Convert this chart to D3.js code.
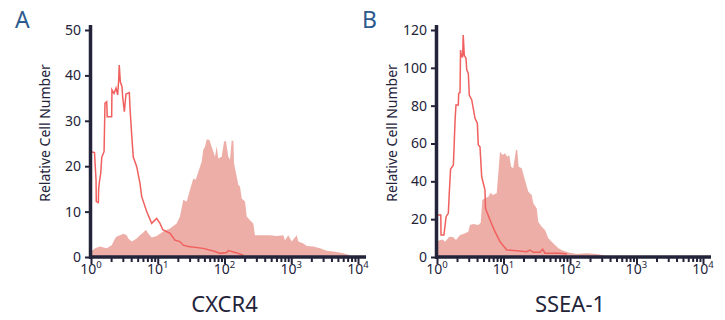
<!DOCTYPE html>
<html>
<head>
<meta charset="utf-8">
<script src="https://cdnjs.cloudflare.com/ajax/libs/d3/7.8.5/d3.min.js"></script>
<style>
  body { margin: 0; background: #fff; }
  svg { font-family: "Noto Sans", "Open Sans", sans-serif; }
</style>
</head>
<body>
<div id="chart"></div>
<script>
// panel A - CXCR4 (fluorescence intensity vs cell count)
var cxcr4Intensity = [1.00, 1.15, 1.36, 1.72, 2.04, 2.29, 2.43, 2.72, 3.05, 3.43, 3.62, 4.07, 4.84, 5.42, 6.08, 6.67,
    7.21, 8.11, 9.64, 12.1, 15.3, 19.2, 21.5, 24.1, 27.2, 30.4, 34.1, 37.0, 43.0, 45.5, 48.1, 51.0, 54.1, 59.2,
    64.3, 72.1, 76.4, 80.7, 90.8, 98.4, 105, 114, 121, 128, 136, 139, 149, 161, 171, 181, 203, 215, 241, 270,
    286, 481, 605, 760, 806, 903, 1016, 1208, 1276, 1517, 1706, 2140, 2697, 3396, 4266, 6026, 7586];
var cxcr4Count = [1.2, 1.9, 2.3, 1.9, 2.6, 4.1, 4.5, 4.8, 5.1, 4.8, 4.1, 3.4, 4.1, 4.8, 5.4, 6.0,
    5.2, 4.3, 4.6, 5.6, 6.3, 7.4, 8.9, 12.6, 12.2, 14.8, 17.3, 17.0, 19.9, 21.0, 23.6, 24.3, 25.9, 25.8,
    24.3, 22.1, 24.4, 21.7, 22.1, 25.4, 25.6, 22.1, 21.4, 25.6, 25.6, 20.6, 18.4, 15.9, 15.5, 12.9, 12.2, 8.9, 8.1, 7.4,
    4.8, 4.8, 4.6, 4.8, 3.7, 4.8, 3.4, 4.8, 3.4, 3.0, 2.4, 2.3, 1.9, 1.4, 1.2, 0.8, 0.4];

var isoAIntensity = [1.00, 1.13, 1.15, 1.19, 1.20, 1.29, 1.30, 1.33, 1.40, 1.45, 1.57, 1.62, 1.72, 1.75, 2.04, 2.06,
    2.21, 2.37, 2.51, 2.60, 2.65, 2.75, 2.91, 2.98, 3.16, 3.34, 3.75, 3.84, 4.07, 4.30, 4.84, 5.42, 5.75, 6.83,
    8.11, 9.64, 10.8, 11.9, 15.3, 18.1, 21.5, 24.1, 28.7, 48.1, 72.1, 85.7, 108, 114, 152, 191];
var isoACount = [23.2, 23.0, 20.7, 17.0, 12.2, 12.0, 14.8, 16.3, 18.5, 22.0, 23.2, 33.9, 34.2, 30.9, 30.9, 36.8,
    36.0, 37.2, 35.7, 39.0, 42.3, 38.6, 37.5, 35.3, 32.0, 35.9, 36.2, 32.8, 26.9, 22.0, 19.9, 16.2, 13.3, 10.0,
    7.4, 8.5, 7.4, 6.0, 5.2, 3.7, 3.4, 2.6, 2.3, 1.9, 1.2, 0.8, 1.0, 1.4, 0.9, 0.4];

// panel B - SSEA-1
var ssea1Intensity = [1.00, 1.11, 1.22, 1.32, 1.53, 1.76, 1.93, 2.22, 2.48, 2.96, 3.13, 3.52, 4.18, 4.54, 4.80,
    5.27, 5.91, 6.42, 6.88, 7.90, 8.35, 8.85, 9.72, 10.5, 11.4, 12.2, 13.0, 14.0, 15.4, 16.1, 16.9, 18.8, 21.0,
    23.6, 26.5, 28.1, 31.6, 33.3, 37.5, 42.1, 47.2, 53.1, 59.5, 66.7, 79.3, 100, 126, 178, 252, 336];
var ssea1Count = [8.1, 9.0, 9.3, 8.1, 10.7, 10.4, 9.0, 11.6, 12.2, 13.4, 16.9, 17.4, 16.9, 18.1, 30.1,
    31.0, 31.9, 34.0, 32.8, 33.7, 44.0, 55.7, 53.9, 54.8, 53.0, 53.9, 47.7, 46.9, 56.6, 56.6, 47.7, 46.9, 40.7,
    34.5, 32.8, 28.4, 25.7, 18.7, 16.0, 14.3, 9.9, 8.1, 6.3, 4.6, 3.3, 2.3, 1.6, 2.0, 1.6, 0.8];

var isoBIntensity = [1.00, 1.14, 1.15, 1.27, 1.37, 1.48, 1.53, 1.60, 1.76, 1.80, 1.87, 1.93, 2.09, 2.12, 2.22,
    2.26, 2.33, 2.43, 2.48, 2.57, 2.73, 2.80, 2.96, 3.06, 3.33, 3.73, 4.04, 4.18, 4.43, 4.70, 5.27, 5.36, 6.27,
    7.45, 8.85, 11.2, 15.8, 22.3, 25.0, 28.1, 35.4, 38.8, 42.1, 70.8, 90.2];
var isoBCount = [22.2, 22.2, 11.6, 11.6, 21.3, 23.1, 34.0, 46.5, 48.5, 56.6, 72.4, 80.3, 80.3, 86.5, 86.9,
    109.4, 105.9, 105.9, 117.4, 106.8, 105.0, 98.9, 97.1, 85.6, 83.0, 73.3, 70.7, 59.2, 58.3, 42.4, 35.4, 25.7, 19.6,
    13.4, 8.1, 3.7, 3.3, 2.8, 3.7, 2.5, 2.5, 4.1, 2.0, 2.0, 1.6];

var decades = [1, 10, 100, 1000, 10000];
var yTicksA = [0, 10, 20, 30, 40, 50];
var yTicksB = [0, 20, 40, 60, 80, 100, 120];

var fillColor = "#edaea7";
var lineColor = "#f0605e";
var inkColor = "#23233a";

var svg = d3.select("#chart").append("svg")
    .attr("width", 725)
    .attr("height", 320);

function zip(xs, ys) {
    return xs.map(function(v, i) { return {x: v, y: ys[i]}; });
}

function drawPanel(p) {
    var g = svg.append("g").attr("transform", "translate(" + p.left + ",0)");

    var x = d3.scaleLog().domain([1, 10000]).range([0, p.width]);
    var y = d3.scaleLinear().domain([0, p.yMax]).range([257, 30]);

    // panel letter
    g.append("text")
        .attr("x", p.letterX)
        .attr("y", 28)
        .style("font-size", "23px")
        .style("fill", "#2d5a8e")
        .text(p.letter);

    var clipId = "clip" + p.letter;
    g.append("clipPath").attr("id", clipId)
        .append("rect").attr("x", 0).attr("y", 0).attr("width", p.width + 10).attr("height", 257);

    var area = d3.area()
        .x(function(d) { return x(d.x); })
        .y0(y(0))
        .y1(function(d) { return y(d.y); });

    var line = d3.line()
        .x(function(d) { return x(d.x); })
        .y(function(d) { return y(d.y); });

    g.append("path")
        .datum(zip(p.fillX, p.fillY))
        .attr("clip-path", "url(#" + clipId + ")")
        .attr("d", area)
        .style("fill", fillColor);

    g.append("path")
        .datum(zip(p.lineX, p.lineY))
        .attr("clip-path", "url(#" + clipId + ")")
        .attr("d", line)
        .style("fill", "none")
        .style("stroke", lineColor)
        .style("stroke-width", 1.5);

    // x axis: minor ticks
    var minor = [];
    decades.slice(0, 4).forEach(function(d) {
        for (var k = 2; k <= 9; k++) minor.push(d * k);
    });
    var xMinor = g.append("g")
        .attr("transform", "translate(0,257)")
        .call(d3.axisBottom(x).tickValues(minor).tickSize(5).tickSizeOuter(0).tickFormat(""));
    xMinor.select(".domain").remove();
    xMinor.selectAll("line").style("stroke", inkColor).style("stroke-width", 2);

    var xMajor = g.append("g")
        .attr("transform", "translate(0,257)")
        .call(d3.axisBottom(x).tickValues(decades).tickSize(7).tickSizeOuter(0).tickFormat(""));
    xMajor.select(".domain").remove();
    xMajor.selectAll("line").style("stroke", inkColor).style("stroke-width", 2);

    // decade labels 10^n
    var lbl = g.append("g").selectAll("text")
        .data(decades)
        .enter().append("text")
        .attr("x", function(d) { return x(d); })
        .attr("y", 274)
        .attr("text-anchor", "middle")
        .style("font-size", "14px")
        .style("fill", inkColor);
    lbl.append("tspan").text("10");
    lbl.append("tspan")
        .attr("dy", -6)
        .style("font-size", "9.5px")
        .text(function(d) { return Math.round(Math.log10(d)); });

    // x axis line
    g.append("line")
        .attr("x1", -2).attr("x2", p.width + 8)
        .attr("y1", 257).attr("y2", 257)
        .style("stroke", inkColor)
        .style("stroke-width", 3.5);

    // y axis
    var yAx = g.append("g")
        .call(d3.axisLeft(y).tickValues(p.yTicks).tickSize(6).tickPadding(4).tickSizeOuter(0));
    yAx.select(".domain").remove();
    yAx.selectAll("line").style("stroke", inkColor).style("stroke-width", 2);
    yAx.selectAll("text")
        .style("font-size", "14px")
        .style("font-family", "'Noto Sans', sans-serif")
        .style("fill", inkColor);

    g.append("line")
        .attr("x1", -0.5).attr("x2", -0.5)
        .attr("y1", 25).attr("y2", 259)
        .style("stroke", inkColor)
        .style("stroke-width", 3.5);

    g.append("text")
        .attr("transform", "translate(" + p.yLabelX + ",133) rotate(-90)")
        .attr("text-anchor", "middle")
        .style("font-size", "14px")
        .style("fill", inkColor)
        .text("Relative Cell Number");

    g.append("text")
        .attr("x", p.width / 2)
        .attr("y", 312)
        .attr("text-anchor", "middle")
        .style("font-size", "22px")
        .style("fill", inkColor)
        .text(p.title);
}

drawPanel({
    letter: "A", letterX: -76, left: 91, width: 267, yMax: 50, yTicks: yTicksA,
    yLabelX: -41, title: "CXCR4",
    fillX: cxcr4Intensity, fillY: cxcr4Count, lineX: isoAIntensity, lineY: isoACount
});

drawPanel({
    letter: "B", letterX: -75, left: 437, width: 266, yMax: 120, yTicks: yTicksB,
    yLabelX: -40, title: "SSEA-1",
    fillX: ssea1Intensity, fillY: ssea1Count, lineX: isoBIntensity, lineY: isoBCount
});
</script>
</body>
</html>
